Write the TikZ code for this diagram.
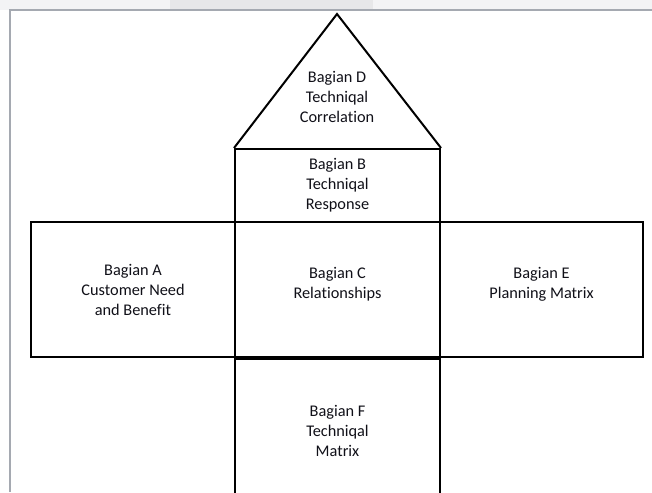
\documentclass[tikz,border=0pt]{standalone}
\usepackage{fontspec}
\setmainfont{Carlito}[Ligatures={NoCommon}]
\usetikzlibrary{positioning}

\definecolor{bandgray}{HTML}{F3F3F5}
\definecolor{tabgray}{HTML}{E7E7E9}
\definecolor{framegray}{HTML}{A5A9B1}
\definecolor{textblack}{HTML}{101018}

\begin{document}
\begin{tikzpicture}
        [x=1pt, y=-1pt,
        part/.style={draw, black, line width=2pt, inner sep=0pt},
        label text/.style={align=center, text=textblack, font={\fontsize{16.3}{20}\selectfont}, inner sep=0pt},
        frame/.style={framegray, line width=1.5pt}]

        \useasboundingbox (0,0) rectangle (652,492);
        \clip (0,0) rectangle (652,492);

        % --- Window frame round the page ---
        \fill[bandgray] (0,0) rectangle (652,10);
        \fill[tabgray] (170,0) rectangle (373,10);
        \draw[frame] (10,492) -- (10,10) -- (652,10);

        % --- Parts of the house ---
        \node[part, minimum width=205pt, minimum height=73pt] (B) at (337.5,185.5) {};
        \node[part, minimum width=204pt, minimum height=135pt] (A) at (133,289.5) {};
        \node[part, minimum width=205pt, minimum height=135pt] (C) at (337.5,289.5) {};
        \node[part, minimum width=203pt, minimum height=135pt] (E) at (541.5,289.5) {};
        \node[part, minimum width=205pt, minimum height=144pt] (F) at (337.5,431) {};

        % P1: roof top (apex of the triangle)
        \coordinate (P1) at (337,14);

        % --- Roof ---
        \draw[black, line width=2pt, line join=miter] (B.north west) -- (P1) -- (B.north east);

        % --- Texts ---
        \node[label text] (Dtext) at (337,97) {Bagian D\\Techniqal\\Correlation};
        \node[label text] (Btext) at (B.center) {Bagian B\\Techniqal\\Response};
        \node[label text] (Atext) at (A.center) {Bagian A\\Customer Need\\and Benefit};
        \node[label text] (Ctext) at ([yshift=5pt]C.center) {Bagian C\\Relationships};
        \node[label text] (Etext) at ([yshift=5pt]E.center) {Bagian E\\Planning Matrix};
        \node[label text] (Ftext) at (F.center) {Bagian F\\Techniqal\\Matrix};
    \end{tikzpicture}
\end{document}
